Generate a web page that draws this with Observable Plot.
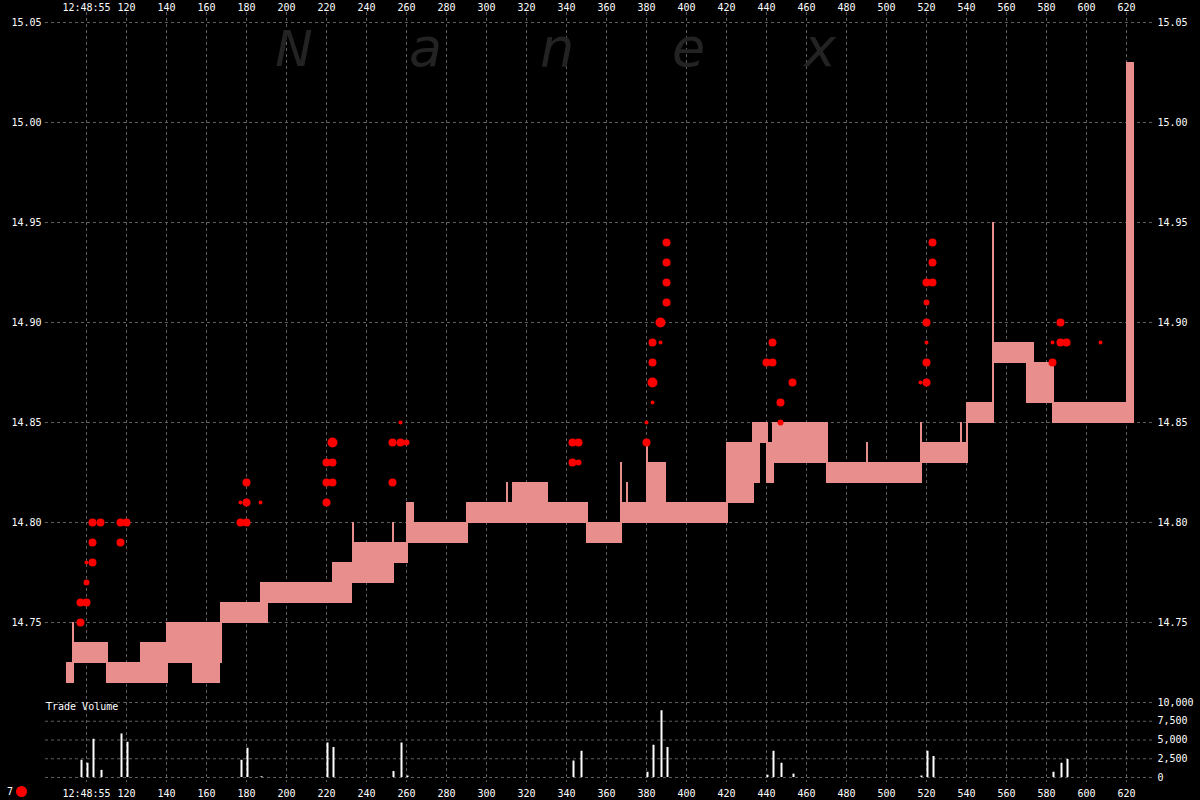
<!DOCTYPE html>
<html><head><meta charset="utf-8">
<script src="https://cdn.jsdelivr.net/npm/d3@7"></script>
<script src="https://cdn.jsdelivr.net/npm/@observablehq/plot@0.6"></script>
<style>
html,body{margin:0;padding:0;background:#000;}
#wrap{position:relative;width:1200px;height:800px;background:#000;overflow:hidden;font-family:"DejaVu Sans Mono",monospace;}
#wrap > *{position:absolute;left:0;top:0;}
.note{color:#fff;font-size:10px;line-height:10px;white-space:pre;}
</style></head><body><div id="wrap"></div>
<script>
// ---- tick labels ----
const xTicks = [100,120,140,160,180,200,220,240,260,280,300,320,340,360,380,400,420,440,460,480,500,520,540,560,580,600,620];
const xTickLabels = ["12:48:55","120","140","160","180","200","220","240","260","280","300","320","340","360","380","400","420","440","460","480","500","520","540","560","580","600","620"];
const priceTicks = [14.75,14.80,14.85,14.90,14.95,15.00,15.05];
const volumeTicks = [0,2500,5000,7500,10000];

// ---- quotes (bid/ask spread boxes) ----
const quoteStart = [90,93,93,110,127,140,153,167,187,223,233,233,253,260,264,290,310,313,350,367,367,370,380,380,420,433,434,440,443,470,490,517,517,537,540,540,553,553,570,583,620];
const quoteEnd   = [94,94,111,141,141,168,167,191,233,254,234,261,254,264,291,351,311,331,368,368,421,371,381,390,434,441,437,444,471,518,491,518,541,538,541,554,554,574,584,624,624];
const quoteBid   = [14.72,14.73,14.73,14.72,14.73,14.73,14.72,14.75,14.76,14.77,14.79,14.78,14.79,14.79,14.79,14.80,14.81,14.81,14.79,14.81,14.80,14.81,14.83,14.81,14.81,14.84,14.82,14.82,14.83,14.82,14.83,14.84,14.83,14.84,14.84,14.85,14.86,14.88,14.86,14.85,14.86];
const quoteAsk   = [14.73,14.75,14.74,14.73,14.74,14.75,14.73,14.76,14.77,14.78,14.80,14.79,14.80,14.81,14.80,14.81,14.82,14.82,14.80,14.83,14.81,14.82,14.84,14.83,14.84,14.85,14.84,14.84,14.85,14.83,14.84,14.85,14.84,14.85,14.85,14.86,14.95,14.89,14.88,14.86,15.03];

// ---- trades ----
const tradeTime  = [97,97,100,100,100,103,103,103,107,117,120,117,177,180,177,180,187,180,223,220,223,220,223,220,253,257,260,253,257,343,346,343,346,380,380,383,383,383,383,387,387,390,390,390,390,443,440,443,453,447,447,523,523,520,523,520,520,520,520,517,520,587,583,587,590,583,607];
const tradePrice = [14.75,14.76,14.76,14.77,14.78,14.78,14.79,14.80,14.80,14.80,14.80,14.79,14.80,14.80,14.81,14.81,14.81,14.82,14.84,14.83,14.83,14.82,14.82,14.81,14.84,14.84,14.84,14.82,14.85,14.84,14.84,14.83,14.83,14.84,14.85,14.86,14.87,14.88,14.89,14.89,14.90,14.91,14.92,14.93,14.94,14.89,14.88,14.88,14.87,14.86,14.85,14.94,14.93,14.92,14.92,14.91,14.90,14.89,14.88,14.87,14.87,14.90,14.89,14.89,14.89,14.88,14.89];
const tradeShares = [1600,1600,1600,900,400,1600,1600,1600,1600,1600,1600,1600,1600,1600,400,1600,400,1600,2500,1600,1600,1600,1600,1600,1600,1600,900,1600,400,1600,1600,1600,900,1600,400,400,2500,1600,1600,400,2500,1600,1600,1600,1600,1600,1600,1600,1600,1600,900,1600,1600,1600,1600,900,1600,400,1600,400,1600,1600,400,1600,1600,1600,400];

// ---- trade volume ----
const volTime   = [97,100,103,107,117,120,177,180,187,220,223,253,257,260,343,347,380,383,387,390,440,443,447,453,517,520,523,583,587,590];
const volShares = [2300,1900,5100,950,5800,4700,2300,3900,100,4600,4000,800,4600,200,2200,3500,700,4300,8900,4000,300,3500,1900,450,200,3500,2800,700,1900,2400];

const watermark = ["N","a","n","e","x"];

const quotes = quoteStart.map((s,i)=>({start:s,end:quoteEnd[i],bid:quoteBid[i],ask:quoteAsk[i]}));
const trades = tradeTime.map((t,i)=>({t,price:tradePrice[i],shares:tradeShares[i]}));
const volume = volTime.map((t,i)=>({t,v:volShares[i]}));

const W = 1200, H = 800;
const xDomain = [79.5, 633.5];
const gridColor = "#5f5f5f";
const baseStyle = {background:"transparent", color:"#fff", fontFamily:"DejaVu Sans Mono", fontSize:"10px", overflow:"visible"};
const wrap = document.getElementById("wrap");

// grid + time axes
const grid = Plot.plot({
  width:W, height:H, marginTop:12, marginBottom:18, marginLeft:45, marginRight:47,
  x:{domain:xDomain, axis:null},
  style:baseStyle,
  marks:[
    Plot.ruleX(xTicks,{stroke:gridColor, strokeDasharray:"3,3"}),
    Plot.axisX(xTicks,{anchor:"top", tickSize:0, tickPadding:2, label:null, fill:"#fff", tickFormat:(d)=>xTickLabels[xTicks.indexOf(d)]}),
    Plot.axisX(xTicks,{anchor:"bottom", tickSize:0, tickPadding:7, label:null, fill:"#fff", tickFormat:(d)=>xTickLabels[xTicks.indexOf(d)]})
  ]
});
wrap.appendChild(grid);

// watermark
const ns = "http://www.w3.org/2000/svg";
const wm = document.createElementNS(ns,"svg");
wm.setAttribute("width",W); wm.setAttribute("height",80);
wm.style.top = "0px";
watermark.forEach((ch,i)=>{
  const t = document.createElementNS(ns,"text");
  t.setAttribute("x", 294 + i*131.5);
  t.setAttribute("y", 66);
  t.setAttribute("text-anchor","middle");
  t.setAttribute("fill","#232323");
  t.setAttribute("font-family","DejaVu Sans");
  t.setAttribute("font-style","italic");
  t.setAttribute("font-size", i===0 ? 50 : 54);
  t.textContent = ch;
  wm.appendChild(t);
});
wrap.appendChild(wm);

// price panel
const price = Plot.plot({
  width:W, height:H, marginTop:22, marginBottom:108, marginLeft:45, marginRight:47,
  x:{domain:xDomain, axis:null},
  y:{domain:[14.715,15.05], axis:null},
  r:{type:"sqrt", domain:[0,2500], range:[0,5]},
  style:baseStyle,
  marks:[
    Plot.ruleY(priceTicks,{stroke:gridColor, strokeDasharray:"3,3"}),
    Plot.rect(quotes,{x1:"start", x2:"end", y1:"bid", y2:"ask", fill:"#e88e8c", insetBottom:-1}),
    Plot.dot(trades,{x:"t", y:"price", r:"shares", fill:"#ff0000"}),
    Plot.axisY(priceTicks,{anchor:"left", tickSize:0, tickPadding:4, label:null, fill:"#fff", tickFormat:d3.format(".2f")}),
    Plot.axisY(priceTicks,{anchor:"right", tickSize:0, tickPadding:4, label:null, fill:"#fff", tickFormat:d3.format(".2f")})
  ]
});
wrap.appendChild(price);

// volume panel
const vol = Plot.plot({
  width:W, height:H, marginTop:702, marginBottom:23, marginLeft:45, marginRight:47,
  x:{domain:xDomain, axis:null},
  y:{domain:[0,10000], axis:null},
  style:baseStyle,
  marks:[
    Plot.ruleY(volumeTicks,{stroke:gridColor, strokeDasharray:"3,3"}),
    Plot.ruleX(volume,{x:"t", y1:0, y2:"v", stroke:"#fff", strokeWidth:2, dx:1}),
    Plot.axisY(volumeTicks,{anchor:"right", tickSize:0, tickPadding:4, label:null, fill:"#fff", tickFormat:d3.format(",")})
  ]
});
wrap.appendChild(vol);

// labels
const tv = document.createElement("div");
tv.className = "note";
tv.style.left = "46px"; tv.style.top = "702px";
tv.textContent = "Trade Volume";
wrap.appendChild(tv);

const lg = document.createElement("div");
lg.className = "note";
lg.style.left = "7px"; lg.style.top = "786px";
lg.style.display = "flex"; lg.style.alignItems = "center";
lg.innerHTML = '<span>7</span><span style="display:inline-block;width:11px;height:11px;border-radius:50%;background:#ff0000;margin-left:3px"></span>';
wrap.appendChild(lg);
</script>
</body></html>
